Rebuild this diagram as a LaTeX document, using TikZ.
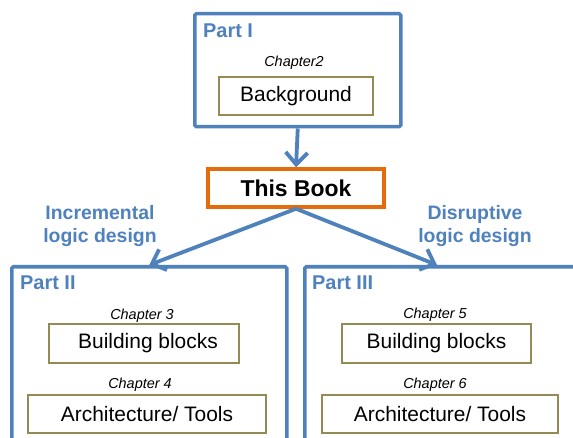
\documentclass[tikz,border=0pt]{standalone}
\usepackage{fontspec}
\setmainfont{Liberation Sans}
\usetikzlibrary{arrows.meta,calc}
\definecolor{partblue}{HTML}{4F81BD}
\definecolor{bookorange}{HTML}{E46C0A}
\definecolor{chapolive}{HTML}{948A54}
\tikzset{
  partbox/.style={draw=partblue, line width=3.5bp, rounded corners=1.5bp, anchor=north west, inner sep=0pt},
  chapbox/.style={draw=chapolive, line width=2.2bp, inner sep=0pt, minimum height=38bp, font=\fontsize{21}{25}\selectfont},
  bookbox/.style={draw=bookorange, line width=3.5bp, inner sep=0pt, minimum width=176bp, minimum height=38bp, font=\bfseries\fontsize{23}{27}\selectfont},
  parttitle/.style={text=partblue, anchor=base west, inner sep=0pt, font=\bfseries\fontsize{20}{24}\selectfont},
  chaplabel/.style={anchor=base, inner sep=0pt, font=\itshape\fontsize{14.5}{17}\selectfont},
  pathlabel/.style={text=partblue, align=center, inner sep=0pt, font=\bfseries\fontsize{19.5}{23}\selectfont},
  flow/.style={draw=partblue, line width=3.8bp, -{Straight Barb[length=12bp, width=22bp, line width=3.8bp]}}
}
\begin{document}
\begin{tikzpicture}[x=1bp, y=-1bp]
  \clip (0,0) rectangle (573,438);
  \fill[white] (0,0) rectangle (573,438);

  % Part I
  \node[partbox, minimum width=206bp, minimum height=113bp] (partI) at (193,12) {};
  \node[parttitle] (tI) at (203,38) {Part I};
  \node[chaplabel] (c2) at (294,67) {Chapter2};
  \node[chapbox, minimum width=154bp] (bg) at (296,96) {Background};

  % This Book
  \node[bookbox] (book) at (296,188) {This Book};

  % Part II
  \node[partbox, minimum width=275bp, minimum height=200bp] (partII) at (10,265) {};
  \node[parttitle] (tII) at (20,289) {Part II};
  \node[chaplabel] (c3) at (142,319) {Chapter 3};
  \node[chapbox, minimum width=190bp, minimum height=39bp] (bb3) at (144,343.5) {\hspace*{8bp}Building blocks};
  \node[chaplabel] (c4) at (140,388) {Chapter 4};
  \node[chapbox, minimum width=238bp] (arch4) at (147,414) {Architecture/ Tools};

  % Part III
  \node[partbox, minimum width=300bp, minimum height=200bp] (partIII) at (303,265) {};
  \node[parttitle] (tIII) at (312,289) {Part III};
  \node[chaplabel] (c5) at (435,318) {Chapter 5};
  \node[chapbox, minimum width=189bp, minimum height=39bp] (bb5) at (436.5,343.5) {Building blocks};
  \node[chaplabel] (c6) at (435,388) {Chapter 6};
  \node[chapbox, minimum width=236bp] (arch6) at (440,414) {Architecture/ Tools};

  % Branch labels
  \node[pathlabel] (inc) at (100,226) {Incremental\\logic design};
  \node[pathlabel] (dis) at (475,226) {Disruptive\\logic design};

  % Connectors
  \coordinate (p3in) at ([xshift=134bp]partIII.north west);
  \draw[flow] (partI.south) -- (book.north);
  \draw[flow] (book.south) -- (partII.north);
  \draw[flow] (book.south) -- (p3in);
\end{tikzpicture}
\end{document}
